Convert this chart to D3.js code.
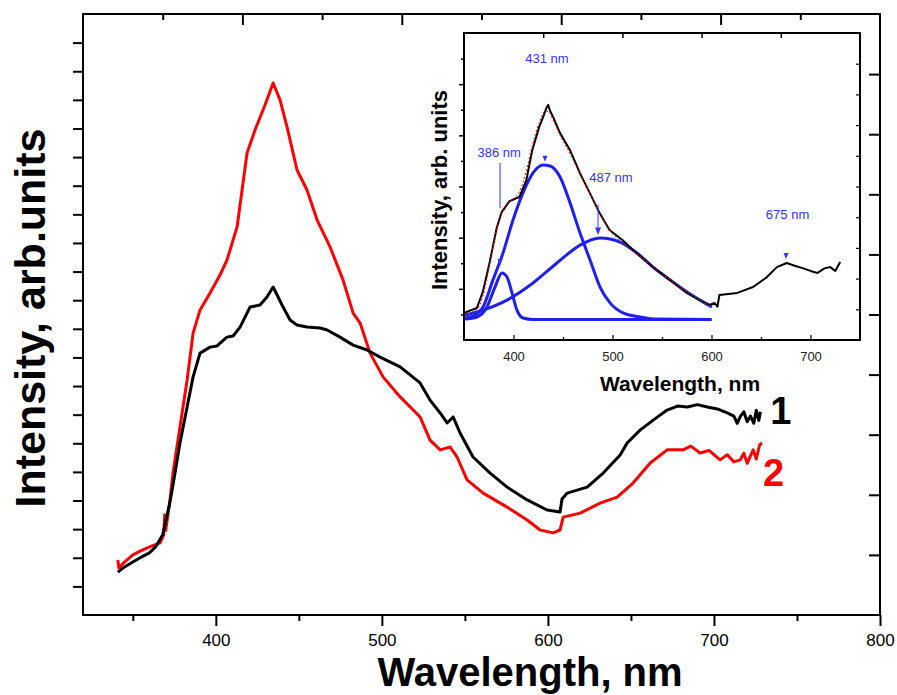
<!DOCTYPE html>
<html>
<head>
<meta charset="utf-8">
<script src="https://cdn.jsdelivr.net/npm/d3@7"></script>
<style>
  body { margin: 0; background: #fff; }
  svg { display: block; font-family: "Liberation Sans", Arial, sans-serif; }
</style>
</head>
<body>
<div id="chart"></div>
<script>
// Main spectra: [wavelength nm, intensity arb. units]
const sample1 = [
  [341, 1.50], [345, 1.68], [350, 1.85], [355, 2.02], [360, 2.17], [364, 2.40], [368, 2.80],
  [372, 3.84], [374, 4.47], [378.4, 6.01], [382.7, 7.27], [386.3, 8.32], [390.5, 9.15],
  [396.5, 9.36], [400.7, 9.40], [406.7, 9.71], [410.4, 9.75], [414.6, 10.06], [418.8, 10.55],
  [420.6, 10.76], [426.6, 10.83], [430.8, 11.11], [434.5, 11.46], [437.5, 11.11], [440.5, 10.76],
  [444.7, 10.31], [448.9, 10.13], [454.9, 10.06], [462.8, 10.03], [467, 9.96], [474.8, 9.71],
  [482.7, 9.43], [491.1, 9.26], [498.9, 9.01], [511, 8.67], [523, 8.11], [529, 7.51],
  [535.1, 7.06], [539.3, 6.71], [542.9, 6.92], [547.1, 6.36], [554.9, 5.52], [565.2, 4.96],
  [575.4, 4.47], [587.5, 4.02], [599.5, 3.67], [607.3, 3.60], [608.5, 4.05], [611.6, 4.26],
  [623.6, 4.47], [633.3, 4.96], [643.5, 5.59], [647.7, 6.01], [655.5, 6.46], [663.4, 6.81],
  [671.8, 7.16], [678, 7.30], [684, 7.27], [690, 7.35], [696, 7.27], [702, 7.20], [708, 7.06],
  [712, 6.95], [714, 6.70], [716, 6.95], [718, 7.10], [720, 6.75], [722, 6.95], [724, 6.70],
  [725.5, 7.15], [727, 6.80], [728, 7.10]
];

const sample2 = [
  [341, 1.92], [341.6, 1.64], [345, 1.85], [350, 2.10], [355, 2.25], [360, 2.38], [366.4, 2.52],
  [368.6, 2.80], [369.2, 3.50], [369.8, 2.95], [372.4, 4.02], [374.2, 4.96], [378.4, 6.57],
  [382.7, 8.21], [386.3, 9.85], [390.5, 10.66], [396.5, 11.25], [402.5, 11.88], [406.7, 12.40],
  [412.8, 13.56], [418.8, 16.14], [423.6, 16.95], [429.6, 17.82], [434.5, 18.59], [438.7, 17.99],
  [442.9, 17.05], [448.9, 15.55], [454.9, 14.85], [461, 13.80], [468.8, 12.86], [476.6, 11.71],
  [482.7, 10.55], [486.9, 10.20], [492.9, 9.15], [500.7, 8.32], [511, 7.62], [523, 6.92],
  [529, 6.11], [535.1, 5.77], [541.1, 5.87], [545.3, 5.52], [551.3, 4.72], [561, 4.26],
  [575.4, 3.77], [587.5, 3.32], [595.3, 2.97], [603.1, 2.87], [607.3, 2.97], [609.2, 3.42],
  [619.4, 3.56], [631.4, 3.91], [641.7, 4.12], [651.3, 4.61], [661.6, 5.31], [671.8, 5.77],
  [681.4, 5.77], [686, 5.90], [691.7, 5.66], [697, 5.75], [703.7, 5.42], [708, 5.60],
  [712, 5.35], [715.8, 5.42], [718, 5.65], [720, 5.30], [723.6, 5.77], [725.5, 5.45],
  [727.5, 5.95], [729, 6.01]
];

// Inset: measured spectrum, red dotted fit, three fitted peaks
const insetData = [
  [350, 1.06], [363, 1.25], [369, 1.88], [376, 3.05], [383, 4.38], [388, 5.00], [396, 5.43],
  [406, 5.59], [413, 6.25], [419, 7.43], [426, 8.33], [430, 8.72], [433, 9.05], [435, 9.19],
  [437, 8.95], [440, 8.72], [447, 8.09], [457, 7.43], [467, 6.53], [477, 5.75], [487, 4.96],
  [497, 4.30], [510, 3.91], [524, 3.40], [541, 2.85], [558, 2.35], [575, 1.84], [588, 1.56],
  [598, 1.37], [603, 1.45], [606, 1.30], [608, 1.76], [626, 1.84], [642, 2.07], [656, 2.46],
  [666, 2.85], [676, 3.01], [684, 2.90], [692, 2.81], [700, 2.70], [707, 2.62], [714, 2.80],
  [720, 2.85], [725, 2.70], [730, 3.05]
];

const fitSum = [
  [350, 1.00], [363, 1.20], [369, 1.70], [376, 3.00], [383, 4.30], [388, 4.95], [396, 5.40],
  [406, 5.80], [413, 6.60], [419, 7.60], [426, 8.50], [432, 8.95], [436, 8.90], [440, 8.60],
  [447, 8.00], [457, 7.30], [467, 6.50], [477, 5.75], [487, 4.95], [497, 4.30], [510, 3.80],
  [525, 3.35], [541, 2.85], [558, 2.35], [575, 1.88], [591, 1.49], [600, 1.29]
];

const peak386 = [
  [351, 0.82], [363, 0.90], [373.2, 1.29], [381.3, 2.07], [388.4, 2.62], [393.4, 2.46],
  [398.5, 1.84], [403.5, 1.17], [409.6, 0.86], [419.7, 0.80], [500, 0.80], [600, 0.80]
];

const peak431 = [
  [351, 0.86], [360, 0.95], [369.2, 1.29], [379.3, 2.35], [389.4, 3.40], [399.5, 4.69],
  [409.6, 5.75], [419.7, 6.53], [429.8, 6.84], [436.9, 6.80], [447, 6.37], [457.1, 5.36],
  [467.2, 4.18], [477.3, 3.13], [487.4, 2.07], [497.5, 1.45], [510.6, 1.06], [527.8, 0.90],
  [540.9, 0.82], [600, 0.80]
];

const peak487 = [
  [351, 0.98], [369.2, 1.17], [393.4, 1.56], [419.7, 2.23], [443.9, 3.01], [467.2, 3.71],
  [487.4, 3.99], [507.6, 3.83], [524.7, 3.40], [540.9, 2.85], [558.1, 2.35], [575.3, 1.88],
  [591.4, 1.49], [600.5, 1.29]
];

// Peak annotations: label, text position, marker position
const peakLabels = ["431 nm", "386 nm", "487 nm", "675 nm"];
const labelPos = [[433.8, 10.83], [385.5, 7.15], [498.5, 6.18], [676.8, 4.73]];
const markerPos = [[431.8, 7.08], [386.4, 3.05], [675.3, 3.28]];

const mainXMajor = [400, 500, 600, 700, 800];
const mainXMinor = [350, 450, 550, 650, 750];
const insetXMajor = [400, 500, 600, 700];
const insetXMinor = [450, 550, 650];

const W = 897, H = 695;
const svg = d3.select("#chart").append("svg").attr("width", W).attr("height", H);
svg.append("rect").attr("width", W).attr("height", H).attr("fill", "#fff");

// ---- main plot
const x = d3.scaleLinear().domain([320, 800]).range([83, 880]);
const y = d3.scaleLinear().domain([0, 21]).range([615, 14]);
const xTop = d3.scaleLinear().domain([0, 10]).range([83, 880]);
const yRight = d3.scaleLinear().domain([0, 10]).range([615, 14]);

function styleAxis(g, width) {
  g.select(".domain").remove();
  g.selectAll(".tick line").attr("stroke", "#000").attr("stroke-width", width);
}

svg.append("g").attr("transform", "translate(0,615)")
  .call(d3.axisBottom(x).tickValues(mainXMajor).tickSize(11).tickPadding(8).tickFormat(d3.format("d")))
  .call(g => {
    styleAxis(g, 2);
    g.selectAll("text").attr("fill", "#000").style("font-size", "17px")
      .style("font-family", "'Liberation Sans', Arial, sans-serif");
  });
svg.append("g").attr("transform", "translate(0,615)")
  .call(d3.axisBottom(x).tickValues(mainXMinor).tickSize(6).tickFormat(""))
  .call(g => styleAxis(g, 2));

svg.append("g").attr("transform", "translate(0,14)")
  .call(d3.axisBottom(xTop).tickValues([2, 4, 6, 8]).tickSize(11).tickFormat(""))
  .call(g => styleAxis(g, 2));
svg.append("g").attr("transform", "translate(0,14)")
  .call(d3.axisBottom(xTop).tickValues([1, 3, 5, 7, 9]).tickSize(6).tickFormat(""))
  .call(g => styleAxis(g, 2));

svg.append("g").attr("transform", "translate(83,0)")
  .call(d3.axisLeft(y).tickValues(d3.range(1, 21)).tickSize(10).tickFormat(""))
  .call(g => styleAxis(g, 2));
svg.append("g").attr("transform", "translate(880,0)")
  .call(d3.axisLeft(yRight).tickValues(d3.range(1, 10)).tickSize(11).tickFormat(""))
  .call(g => styleAxis(g, 2));

svg.append("rect")
  .attr("x", x(320)).attr("y", y(21))
  .attr("width", x(800) - x(320)).attr("height", y(0) - y(21))
  .attr("fill", "none").attr("stroke", "#000").attr("stroke-width", 2);

const line = d3.line().x(d => x(d[0])).y(d => y(d[1]));
svg.append("path").datum(sample2).attr("d", line)
  .attr("fill", "none").attr("stroke", "#ff0000").attr("stroke-width", 3).attr("stroke-linejoin", "round");
svg.append("path").datum(sample1).attr("d", line)
  .attr("fill", "none").attr("stroke", "#000").attr("stroke-width", 3).attr("stroke-linejoin", "round");

svg.append("text").attr("x", x(733.9)).attr("y", y(6.67))
  .style("font-size", "38px").style("font-weight", "bold").attr("fill", "#000").text("1");
svg.append("text").attr("x", x(729.6)).attr("y", y(4.51))
  .style("font-size", "38px").style("font-weight", "bold").attr("fill", "#ff0000").text("2");

svg.append("text").attr("x", 530).attr("y", 686).attr("text-anchor", "middle")
  .style("font-size", "40px").style("font-weight", "bold").text("Wavelength, nm");
svg.append("text").attr("transform", "translate(45,318) rotate(-90)").attr("text-anchor", "middle")
  .style("font-size", "43px").style("font-weight", "bold").text("Intensity, arb.units");

// ---- inset
const xi = d3.scaleLinear().domain([350, 750]).range([464, 860]);
const yi = d3.scaleLinear().domain([0, 12]).range([340, 33]);
const xiTop = d3.scaleLinear().domain([0, 5]).range([464, 860]);
const yiRight = d3.scaleLinear().domain([0, 10]).range([340, 33]);

const inset = svg.append("g");
inset.append("rect")
  .attr("x", xi(350)).attr("y", yi(12))
  .attr("width", xi(750) - xi(350)).attr("height", yi(0) - yi(12))
  .attr("fill", "#fff");

inset.append("g").attr("transform", "translate(0,340)")
  .call(d3.axisBottom(xi).tickValues(insetXMajor).tickSize(-5).tickPadding(12).tickFormat(d3.format("d")))
  .call(g => {
    styleAxis(g, 1.2);
    g.selectAll("text").attr("fill", "#222").style("font-size", "13px")
      .style("font-family", "'Liberation Sans', Arial, sans-serif");
  });
inset.append("g").attr("transform", "translate(0,340)")
  .call(d3.axisBottom(xi).tickValues(insetXMinor).tickSize(-3).tickFormat(""))
  .call(g => styleAxis(g, 1.2));
inset.append("g").attr("transform", "translate(0,33)")
  .call(d3.axisBottom(xiTop).tickValues([1, 2, 3, 4]).tickSize(5).tickFormat(""))
  .call(g => styleAxis(g, 1.5));
inset.append("g").attr("transform", "translate(464,0)")
  .call(d3.axisLeft(yi).tickValues([2, 4, 6, 8, 10]).tickSize(5).tickFormat(""))
  .call(g => styleAxis(g, 1.5));
inset.append("g").attr("transform", "translate(464,0)")
  .call(d3.axisLeft(yi).tickValues([1, 3, 5, 7, 9, 11]).tickSize(3).tickFormat(""))
  .call(g => styleAxis(g, 1.5));
inset.append("g").attr("transform", "translate(860,0)")
  .call(d3.axisLeft(yiRight).tickValues(d3.range(1, 10)).tickSize(4).tickFormat(""))
  .call(g => styleAxis(g, 1.2));

const iline = d3.line().x(d => xi(d[0])).y(d => yi(d[1]));
const smooth = d3.line().x(d => xi(d[0])).y(d => yi(d[1])).curve(d3.curveMonotoneX);
const blue = "#1f1fef";

[peak386, peak431, peak487].forEach(p => {
  inset.append("path").datum(p).attr("d", smooth)
    .attr("fill", "none").attr("stroke", blue).attr("stroke-width", 3);
});
inset.append("path").datum(insetData).attr("d", iline)
  .attr("fill", "none").attr("stroke", "#000").attr("stroke-width", 2).attr("stroke-linejoin", "round");
inset.append("path").datum(fitSum).attr("d", smooth)
  .attr("fill", "none").attr("stroke", "#ff0000").attr("stroke-width", 1).attr("stroke-dasharray", "2,2");

inset.append("rect")
  .attr("x", xi(350)).attr("y", yi(12))
  .attr("width", xi(750) - xi(350)).attr("height", yi(0) - yi(12))
  .attr("fill", "none").attr("stroke", "#000").attr("stroke-width", 2);

// annotations
const textBlue = "#3434ff";
peakLabels.forEach((t, i) => {
  inset.append("text").attr("x", xi(labelPos[i][0])).attr("y", yi(labelPos[i][1]))
    .attr("text-anchor", "middle").attr("fill", textBlue).style("font-size", "13px").text(t);
});
inset.append("line")
  .attr("x1", xi(386.4)).attr("x2", xi(386.4)).attr("y1", yi(6.92)).attr("y2", yi(5.16))
  .attr("stroke", textBlue).attr("stroke-width", 1);
inset.append("line")
  .attr("x1", xi(485.4)).attr("x2", xi(485.4)).attr("y1", yi(5.28)).attr("y2", yi(4.25))
  .attr("stroke", textBlue).attr("stroke-width", 1);
inset.append("path")
  .attr("d", `M${xi(485.4) - 3},${yi(4.40)} L${xi(485.4) + 3},${yi(4.40)} L${xi(485.4)},${yi(4.10)} Z`)
  .attr("fill", textBlue);
markerPos.forEach(m => {
  const cx = xi(m[0]), cy = yi(m[1]);
  inset.append("path")
    .attr("d", `M${cx - 2.5},${cy - 3} L${cx + 2.5},${cy - 3} L${cx},${cy + 3} Z`)
    .attr("fill", textBlue);
});

inset.append("text").attr("x", 680).attr("y", 391).attr("text-anchor", "middle")
  .style("font-size", "21px").style("font-weight", "bold").text("Wavelength, nm");
inset.append("text").attr("transform", "translate(447,190) rotate(-90)").attr("text-anchor", "middle")
  .style("font-size", "22px").style("font-weight", "bold").text("Intensity, arb. units");
</script>
</body>
</html>
